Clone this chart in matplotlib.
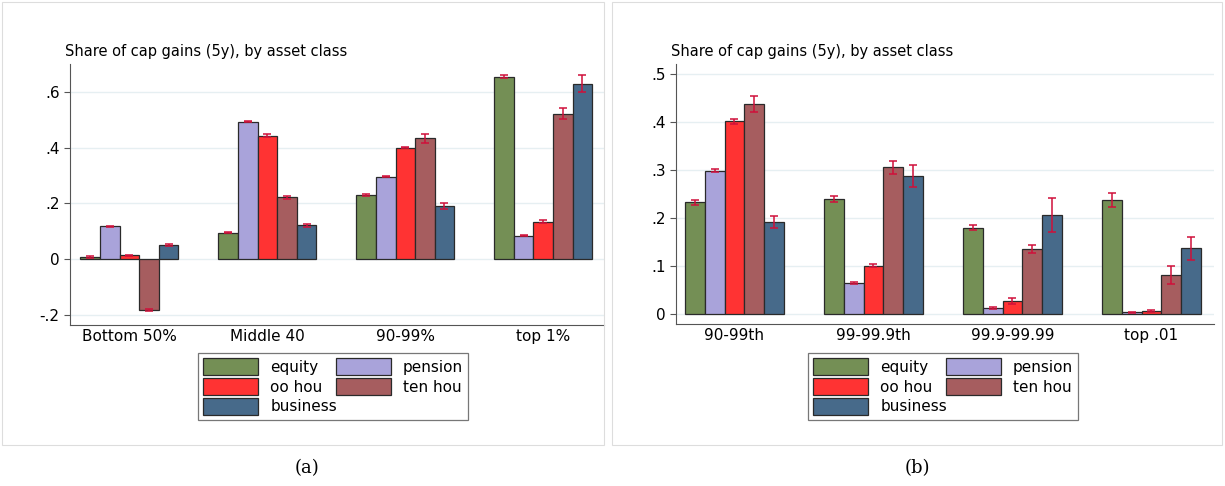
import numpy as np
import matplotlib
matplotlib.use("Agg")
import matplotlib.pyplot as plt
from matplotlib.patches import Rectangle

series = ["equity", "pension", "oo hou", "ten hou", "business"]
colors = ["#748f55", "#a9a3da", "#ff3333", "#a65d5f", "#476a8a"]

cats_a = ["Bottom 50%", "Middle 40", "90-99%", "top 1%"]
vals_a = [
    [0.007, 0.095, 0.230, 0.655],
    [0.118, 0.493, 0.295, 0.083],
    [0.013, 0.443, 0.400, 0.134],
    [-0.183, 0.221, 0.433, 0.521],
    [0.050, 0.121, 0.191, 0.629],
]
errs_a = [
    [0.002, 0.002, 0.004, 0.004],
    [0.002, 0.003, 0.002, 0.002],
    [0.002, 0.004, 0.002, 0.005],
    [0.002, 0.006, 0.015, 0.020],
    [0.003, 0.006, 0.011, 0.030],
]

cats_b = ["90-99th", "99-99.9th", "99.9-99.99", "top .01"]
vals_b = [
    [0.232, 0.239, 0.179, 0.237],
    [0.298, 0.065, 0.012, 0.003],
    [0.401, 0.100, 0.027, 0.007],
    [0.437, 0.305, 0.135, 0.081],
    [0.191, 0.287, 0.206, 0.137],
]
errs_b = [
    [0.005, 0.006, 0.005, 0.014],
    [0.003, 0.002, 0.002, 0.001],
    [0.005, 0.003, 0.006, 0.002],
    [0.017, 0.014, 0.009, 0.018],
    [0.013, 0.022, 0.035, 0.024],
]

W, H = 1225, 486
fig = plt.figure(figsize=(W / 100, H / 100), dpi=100)
fig.patch.set_facecolor("white")

# panel frames
for x0, x1 in [(2, 604), (612, 1222)]:
    fig.patches.append(Rectangle((x0 / W, 1 - 445 / H), (x1 - x0) / W, 443 / H,
                                 transform=fig.transFigure, fill=False,
                                 edgecolor="#dddddd", linewidth=0.8))


def panel(rect, cats, vals, errs, ylim, xlim, yticks, ylabels, leg_rect, caption, cap_x):
    ax = fig.add_axes([rect[0] / W, 1 - rect[3] / H, (rect[2] - rect[0]) / W, (rect[3] - rect[1]) / H])
    x = np.arange(len(cats))
    bw = 0.142
    for i, (s, c) in enumerate(zip(series, colors)):
        pos = x + (i - 2) * bw
        ax.bar(pos, vals[i], width=bw, color=c, edgecolor="#2a2a2a", linewidth=0.9,
               label=s, zorder=3)
        ax.errorbar(pos, vals[i], yerr=errs[i], fmt="none", ecolor="#d0103a",
                    elinewidth=1.1, capsize=3, capthick=1.1, zorder=4)
    ax.set_xlim(*xlim)
    ax.set_ylim(*ylim)
    ax.set_yticks(yticks)
    ax.set_yticklabels(ylabels, fontsize=11)
    ax.set_xticks(x)
    ax.set_xticklabels(cats, fontsize=11)
    ax.tick_params(axis="x", length=0, pad=3)
    ax.tick_params(axis="y", length=4, color="#555555")
    ax.grid(axis="y", color="#e6eff2", linewidth=1, zorder=0)
    for sp in ["top", "right"]:
        ax.spines[sp].set_visible(False)
    for sp in ["left", "bottom"]:
        ax.spines[sp].set_color("#555555")
    ax.set_title("Share of cap gains (5y), by asset class", loc="left", fontsize=10.5, x=-0.01, pad=6)
    h, l = ax.get_legend_handles_labels()
    lax = fig.add_axes([leg_rect[0] / W, 1 - leg_rect[3] / H, (leg_rect[2] - leg_rect[0]) / W,
                        (leg_rect[3] - leg_rect[1]) / H])
    lax.axis("off")
    order = [0, 2, 4, 1, 3]
    leg = lax.legend([h[k] for k in order], [l[k] for k in order], ncol=2, loc="center",
                     fontsize=11, frameon=True, fancybox=False, edgecolor="#555555",
                     handlelength=3.6, handleheight=1.3, columnspacing=1.0, labelspacing=0.2,
                     borderpad=0.35, mode="expand", bbox_to_anchor=(0, 0, 1, 1))
    leg.get_frame().set_linewidth(0.9)
    fig.text(cap_x / W, 1 - 468 / H, caption, ha="center", va="center", fontsize=13, family="serif")


panel((70, 64, 604, 325), cats_a, vals_a, errs_a, (-0.237, 0.70), (-0.43, 3.44),
      [-0.2, 0, 0.2, 0.4, 0.6], ["-.2", "0", ".2", ".4", ".6"], (190, 350, 476, 423), "(a)", 307)
panel((676, 64, 1214, 324), cats_b, vals_b, errs_b, (-0.021, 0.52), (-0.42, 3.45),
      [0, 0.1, 0.2, 0.3, 0.4, 0.5], ["0", ".1", ".2", ".3", ".4", ".5"], (800, 350, 1086, 423), "(b)", 917)

fig.savefig("out.png", dpi=100)
